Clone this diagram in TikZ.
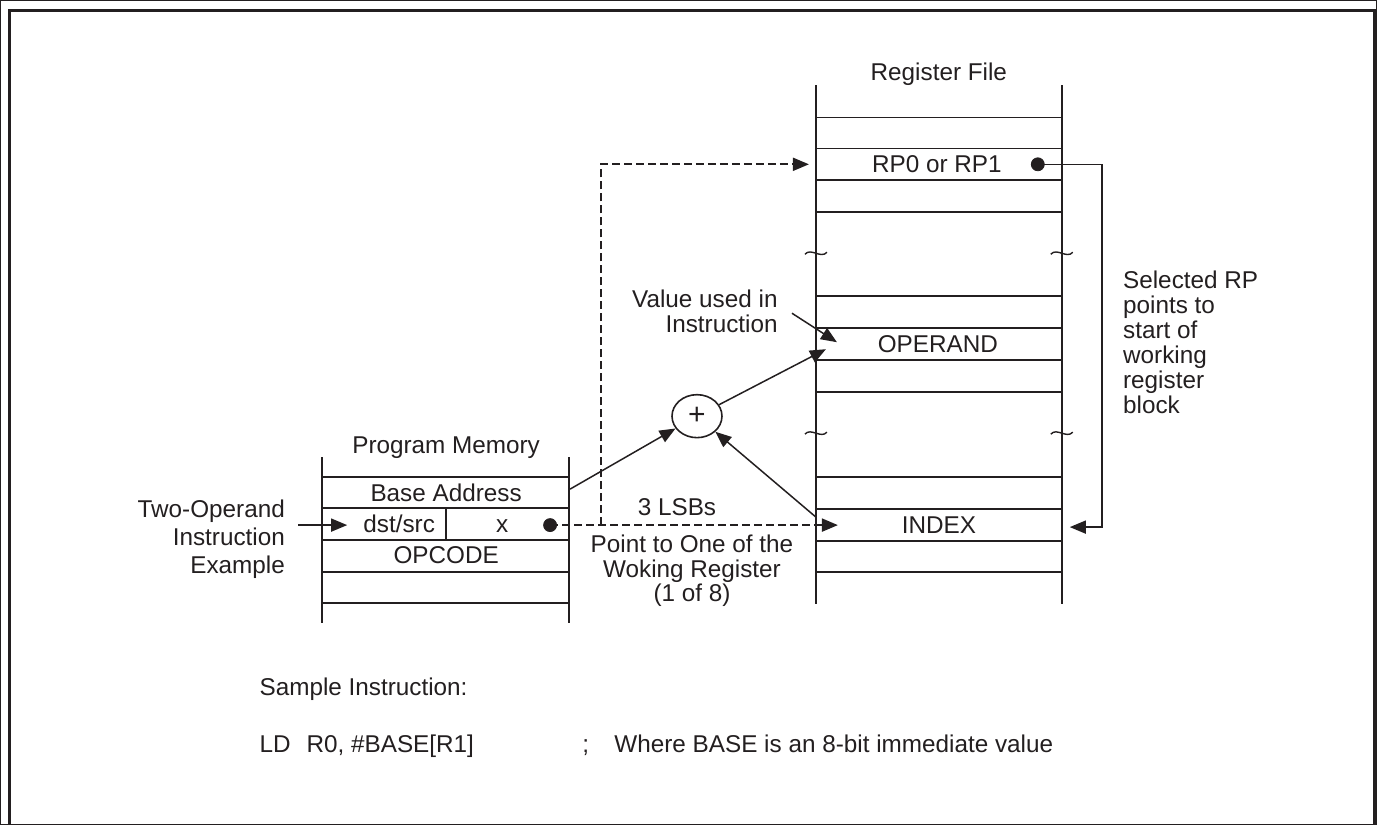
\documentclass[tikz,border=0pt]{standalone}
\usepackage{fontspec}
\setmainfont{Liberation Sans}
\usetikzlibrary{arrows.meta,shapes.geometric}
\definecolor{ink}{RGB}{35,31,32}
\begin{document}
\begin{tikzpicture}[x=0.5pt,y=-0.5pt,
  every path/.style={draw=ink},
  txt/.style={inner sep=0pt, text=ink, font=\fontsize{12.15pt}{12.5pt}\selectfont},
  ctr/.style={txt, anchor=base},
  lft/.style={txt, anchor=base west},
  rgt/.style={txt, anchor=base east},
  vline/.style={line width=1pt},
  hline/.style={line width=0.8pt},
  arrline/.style={line width=0.75pt},
  tip/.style={-{Triangle[length=8pt,width=6.5pt]}},
  dsh/.style={line width=1pt, dash pattern=on 4pt off 2pt},
  brk/.style={line width=0.7pt},
  frame/.style={line width=1.5pt}]
\useasboundingbox (0,0) rectangle (1377,824);

% outer frame
\draw[frame] (9,824) -- (9,10) -- (1375,10) -- (1375,824);

% ---------------- Register file
\draw[vline] (816,85) -- (816,604);
\draw[vline] (1062,85) -- (1062,604);
\foreach \y in {117,148,180,212,296,328,360,392,477,509,541,572}
  \draw[hline] (816,\y) -- (1062,\y);
\foreach \xx in {816,1062}
  \foreach \yy in {253,433}
    \draw[brk] (\xx-11,\yy+1) .. controls (\xx-5,\yy-6) and (\xx+5,\yy+6) .. (\xx+11,\yy-1);

\node[ctr] (rftitle) at (939,80) {Register File};
\node[ctr] (rp) at (937,172) {RP0 or RP1};
\node[ctr] (operand) at (938,352) {OPERAND};
\node[ctr] (index) at (939,533) {INDEX};

% ---------------- Program memory
\draw[vline] (322,457) -- (322,623);
\draw[vline] (569,457) -- (569,623);
\foreach \y in {477,508,540,572,603}
  \draw[hline] (322,\y) -- (569,\y);
\draw[hline] (446,508) -- (446,540);

\node[ctr] (pmtitle) at (446,453) {Program Memory};
\node[ctr] (base) at (446,501) {Base Address};
\node[ctr] (dst) at (399,532) {dst/src};
\node[ctr] (xfield) at (502,532) {x};
\node[ctr] (opcode) at (446,563) {OPCODE};

% ---------------- Labels
\node[rgt] (two1) at (285,517) {Two-Operand};
\node[rgt] (two2) at (285,545) {Instruction};
\node[rgt] (two3) at (285,573) {Example};

\node[rgt] (val1) at (778,307) {Value used in};
\node[rgt] (val2) at (778,332) {Instruction};

\node[lft] (sel1) at (1123,288) {Selected RP};
\node[lft] (sel2) at (1123,313) {points to};
\node[lft] (sel3) at (1123,338) {start of};
\node[lft] (sel4) at (1123,363) {working};
\node[lft] (sel5) at (1123,388) {register};
\node[lft] (sel6) at (1123,413) {block};

\node[ctr] (lsb) at (677,515) {3 LSBs};
\node[ctr] (pt1) at (692,552) {Point to One of the};
\node[ctr] (pt2) at (692,577) {Woking Register};
\node[ctr] (pt3) at (692,601) {(1 of 8)};

\node[lft] (sample) at (259,695) {Sample Instruction:};
\node[lft] (ld) at (259,753) {LD};
\node[lft] (operands) at (306,753) {R0, \#BASE[R1]};
\node[lft] (semi) at (582,753) {;};
\node[lft] (comment) at (614,753) {Where BASE is an 8-bit immediate value};

% ---------------- Adder
\node[draw=ink, ellipse, line width=0.8pt, minimum width=25pt, minimum height=21.5pt,
      inner sep=0pt, text=ink, font=\fontsize{15pt}{15pt}\selectfont] (plus) at (697,416) {+};

% ---------------- Connectors
\coordinate (rpdot) at (1038,164);
\coordinate (rpc1) at (1102,164);
\coordinate (rpc2) at (1102,527);
\coordinate (idxtip) at (1070,527);
\fill[ink] (rpdot) circle (3.25pt);
\draw[arrline, tip] (rpdot) -- (rpc1) -- (rpc2) -- (idxtip);

\coordinate (xdot) at (550,525);
\coordinate (dtip) at (838,525);
\coordinate (vbot) at (601,525);
\coordinate (vtop) at (601,164);
\coordinate (rptip) at (809,164);
\fill[ink] (xdot) circle (3.25pt);
\draw[dsh, tip] (xdot) -- (dtip);
\draw[dsh, tip] (vbot) -- (vtop) -- (rptip);

\coordinate (inpt) at (298,525);
\coordinate (intip) at (347,525);
\draw[arrline, tip] (inpt) -- (intip);

\coordinate (basept) at (570,489);
\draw[arrline, tip] (basept) -- (plus);
\coordinate (optip) at (826,349);
\draw[arrline, tip] (plus) -- (optip);
\coordinate (idxpt) at (816,517);
\draw[arrline, tip] (idxpt) -- (plus);
\coordinate (valpt) at (792,313);
\coordinate (valtip) at (837,342);
\draw[arrline, tip] (valpt) -- (valtip);
\end{tikzpicture}
\end{document}
